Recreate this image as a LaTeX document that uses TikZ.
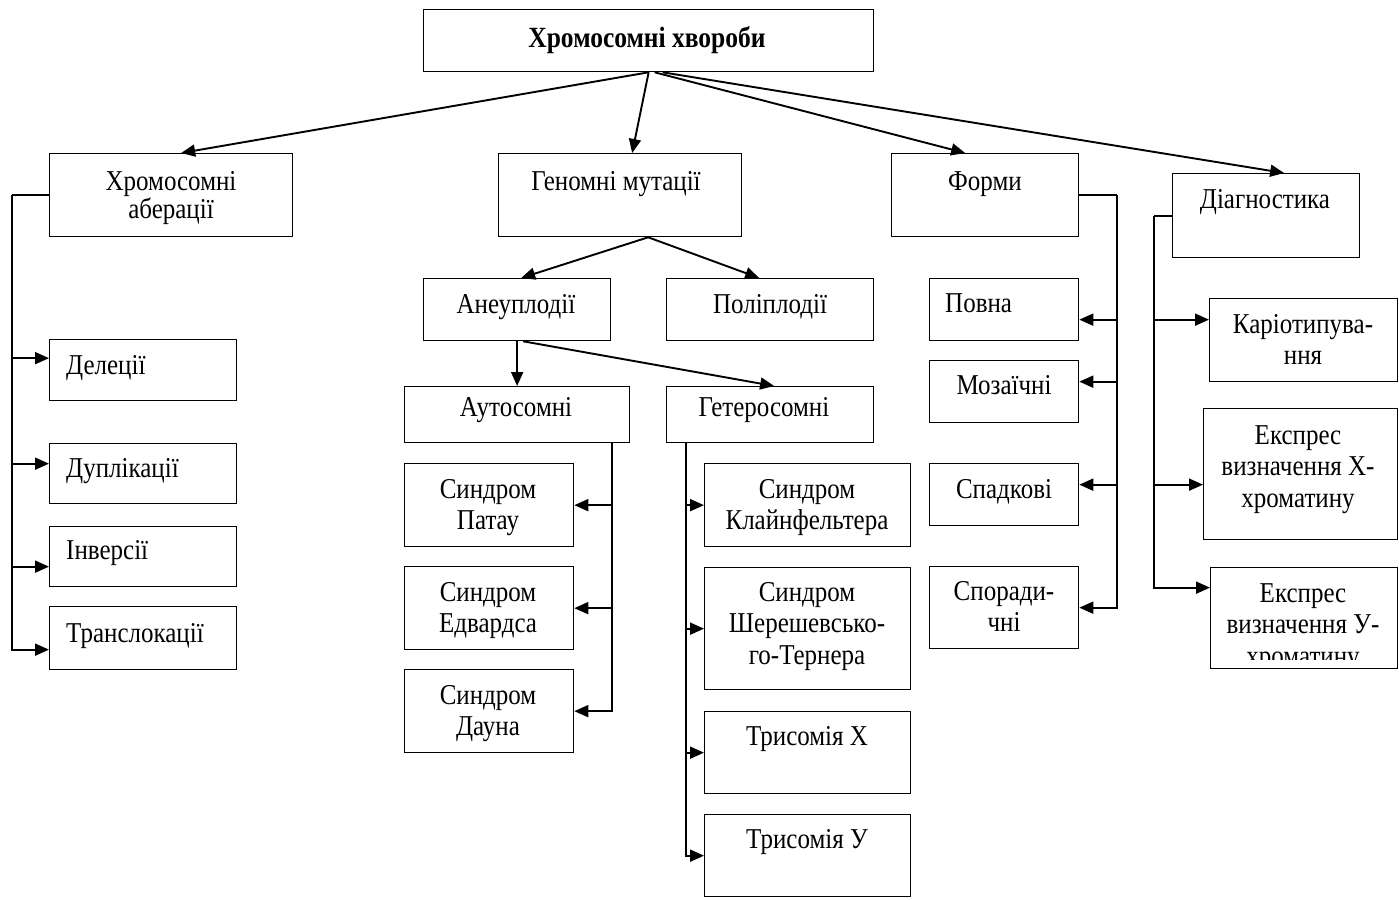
\documentclass[tikz,border=0pt]{standalone}
\usepackage{fontspec}
\usepackage{graphicx}
\setmainfont{Liberation Serif}
\usetikzlibrary{arrows.meta}
\newcommand\lbl[1]{\scalebox{1}[1.15]{\begin{tabular}[t]{@{}c@{}}#1\end{tabular}}}
\begin{document}
\begin{tikzpicture}[x=1pt,y=-1pt,
  box/.style={draw, line width=1.3pt, inner sep=0pt, anchor=north west},
  txt/.style={font=\fontsize{25}{27.4}\selectfont, inner sep=0pt, anchor=base},
  ltxt/.style={txt, anchor=base west},
  conn/.style={line width=1.9pt},
  arr/.style={conn, -{Triangle[length=14pt,width=12pt]}}]
\useasboundingbox (0,0) rectangle (1399,899);

% boxes
\node[box, minimum width=450pt, minimum height=62pt] (top) at (423,9) {};
\node[box, minimum width=243pt, minimum height=83pt] (aber) at (49,153) {};
\node[box, minimum width=243pt, minimum height=83pt] (gen) at (498,153) {};
\node[box, minimum width=187pt, minimum height=83pt] (forms) at (891,153) {};
\node[box, minimum width=187pt, minimum height=84pt] (diag) at (1172,173) {};

\node[box, minimum width=187pt, minimum height=61pt] (del) at (49,339) {};
\node[box, minimum width=187pt, minimum height=60pt] (dup) at (49,443) {};
\node[box, minimum width=187pt, minimum height=60pt] (inv) at (49,526) {};
\node[box, minimum width=187pt, minimum height=63pt] (trl) at (49,606) {};

\node[box, minimum width=187pt, minimum height=62pt] (aneu) at (423,278) {};
\node[box, minimum width=207pt, minimum height=62pt] (poly) at (666,278) {};
\node[box, minimum width=225pt, minimum height=56pt] (auto) at (404,386) {};
\node[box, minimum width=207pt, minimum height=56pt] (het) at (666,386) {};

\node[box, minimum width=169pt, minimum height=83pt] (patau) at (404,463) {};
\node[box, minimum width=169pt, minimum height=83pt] (edw) at (404,566) {};
\node[box, minimum width=169pt, minimum height=83pt] (down) at (404,669) {};

\node[box, minimum width=206pt, minimum height=83pt] (klin) at (704,463) {};
\node[box, minimum width=206pt, minimum height=122pt] (sher) at (704,567) {};
\node[box, minimum width=206pt, minimum height=82pt] (trx) at (704,711) {};
\node[box, minimum width=206pt, minimum height=82pt] (try) at (704,814) {};

\node[box, minimum width=149pt, minimum height=62pt] (full) at (929,278) {};
\node[box, minimum width=149pt, minimum height=62pt] (mos) at (929,360) {};
\node[box, minimum width=149pt, minimum height=62pt] (her) at (929,463) {};
\node[box, minimum width=149pt, minimum height=82pt] (spor) at (929,566) {};

\node[box, minimum width=188pt, minimum height=83pt] (kar) at (1209,298) {};
\node[box, minimum width=194pt, minimum height=131pt] (exx) at (1203,408) {};
\node[box, minimum width=187pt, minimum height=101pt] (exy) at (1210,567) {};

% texts
\node[txt, font=\fontsize{25.5}{27.4}\selectfont\bfseries] (t-top) at (647,48) {\lbl{Хромосомні хвороби}};
\node[txt] (t-aber) at (171,190) {\lbl{Хромосомні\\[-3pt]аберації}};
\node[txt] (t-gen) at (616,190) {\lbl{Геномні мутації}};
\node[txt] (t-forms) at (985,190) {\lbl{Форми}};
\node[txt] (t-diag) at (1265,208) {\lbl{Діагностика}};

\node[ltxt] (t-del) at (66,374) {\lbl{Делеції}};
\node[ltxt] (t-dup) at (66,477) {\lbl{Дуплікації}};
\node[ltxt] (t-inv) at (66,559) {\lbl{Інверсії}};
\node[ltxt] (t-trl) at (66,642) {\lbl{Транслокації}};

\node[txt] (t-aneu) at (516,313) {\lbl{Анеуплодії}};
\node[txt] (t-poly) at (770,313) {\lbl{Поліплодії}};
\node[txt] (t-auto) at (516,416) {\lbl{Аутосомні}};
\node[txt] (t-het) at (764,416) {\lbl{Гетеросомні}};

\node[txt] (t-patau) at (488,498) {\lbl{Синдром\\Патау}};
\node[txt] (t-edw) at (488,601) {\lbl{Синдром\\Едвардса}};
\node[txt] (t-down) at (488,704) {\lbl{Синдром\\Дауна}};

\node[txt] (t-klin) at (807,498) {\lbl{Синдром\\Клайнфельтера}};
\node[txt] (t-sher) at (807,601) {\lbl{Синдром\\Шерешевсько-\\го-Тернера}};
\node[txt] (t-trx) at (807,745) {\lbl{Трисомія Х}};
\node[txt] (t-try) at (807,848) {\lbl{Трисомія У}};

\node[ltxt] (t-full) at (945,312) {\lbl{Повна}};
\node[txt] (t-mos) at (1004,394) {\lbl{Мозаїчні}};
\node[txt] (t-her) at (1004,498) {\lbl{Спадкові}};
\node[txt] (t-spor) at (1004,600) {\lbl{Споради-\\чні}};

\node[txt] (t-kar) at (1303,333) {\lbl{Каріотипува-\\ння}};
\node[txt] (t-exx) at (1298,444) {\lbl{Експрес\\визначення Х-\\хроматину}};
\begin{scope}
\clip (1210,567) rectangle (1396,659);
\node[txt] (t-exy) at (1303,602) {\lbl{Експрес\\визначення У-\\хроматину}};
\end{scope}

% top connectors
\draw[arr] (top.south) -- ([xshift=10pt]aber.north);
\draw[arr] (top.south) -- ([xshift=12pt]gen.north);
\draw[arr] ([xshift=6pt]top.south) -- ([xshift=-20pt]forms.north);
\draw[arr] ([xshift=14pt]top.south) -- ([xshift=18pt]diag.north);

% genomic
\draw[arr] ([xshift=28pt]gen.south) -- ([xshift=4pt]aneu.north);
\draw[arr] ([xshift=28pt]gen.south) -- ([xshift=-11pt]poly.north);
\draw[arr] (aneu.south) -- (auto.north);
\draw[arr] ([xshift=6pt]aneu.south) -- ([xshift=4pt]het.north);

% autosomal
\draw[arr] ([xshift=-18pt]auto.south east) |- (patau.east);
\draw[arr] ([xshift=-18pt]auto.south east) |- (edw.east);
\draw[arr] ([xshift=-18pt]auto.south east) |- (down.east);

% heterosomal
\draw[arr] ([xshift=20pt]het.south west) |- (klin.west);
\draw[arr] ([xshift=20pt]het.south west) |- (sher.west);
\draw[arr] ([xshift=20pt]het.south west) |- (trx.west);
\draw[arr] ([xshift=20pt]het.south west) |- (try.west);

% aberrations
\coordinate (av) at ([xshift=-37pt]aber.west);
\draw[conn] (aber.west) -- (av);
\draw[arr] (av) |- ([yshift=12pt]del.west);
\draw[arr] (av) |- ([yshift=10pt]dup.west);
\draw[arr] (av) |- ([yshift=-10pt]inv.west);
\draw[arr] (av) |- ([yshift=-11.5pt]trl.west);

% forms
\coordinate (fv) at ([xshift=38pt]forms.east);
\draw[conn] (forms.east) -- (fv);
\draw[arr] (fv) |- ([yshift=-10pt]full.east);
\draw[arr] (fv) |- ([yshift=10pt]mos.east);
\draw[arr] (fv) |- ([yshift=10pt]her.east);
\draw[arr] (fv) |- (spor.east);

% diagnostics
\coordinate (dv) at ([xshift=-18pt]diag.west);
\draw[conn] (diag.west) -- (dv);
\draw[arr] (dv) |- ([yshift=20.5pt]kar.west);
\draw[arr] (dv) |- ([yshift=-10.5pt]exx.west);
\draw[arr] (dv) |- ([yshift=30.5pt]exy.west);
\end{tikzpicture}
\end{document}
